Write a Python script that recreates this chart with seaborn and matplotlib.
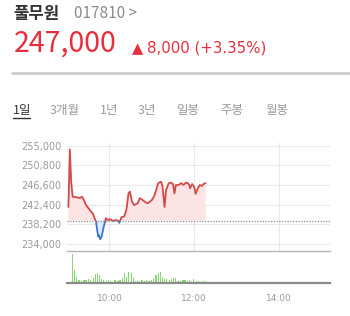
import numpy as np
import pandas as pd
import matplotlib
matplotlib.use("Agg")
import matplotlib.pyplot as plt
from matplotlib.patches import Rectangle
import seaborn as sns

# ---------------- data ----------------
name = "풀무원"
code = "017810 >"
last_price = "247,000"
change_arrow = "▲"
change_text = "8,000 (+3.35%)"
tabs = ["1일", "3개월", "1년", "3년", "일봉", "주봉", "월봉"]

prev_close = 239000
y_ticks = [234000, 238200, 242400, 246600, 250800, 255000]
x_ticks = [60, 180, 300]          # minutes after 09:00
x_tick_labels = ["10:00", "12:00", "14:00"]

# price line: minutes after 09:00, price
price_min = [2, 4, 6, 8, 13, 18, 21, 24, 27, 32, 37, 39, 41, 44, 45, 47, 49, 52,
             55, 58, 61, 65, 68, 72, 74, 77, 81, 84, 87, 89, 92, 95, 100, 103,
             107, 110, 114, 117, 120, 123, 126, 129, 133, 135, 138, 140, 144,
             147, 150, 152, 154, 158, 161, 165, 168, 171, 173, 174, 177, 180,
             182, 185, 188, 191, 193, 196]
price_val = [241900, 254200, 247100, 244100, 244000, 243800, 244100, 243400,
             242300, 241300, 240400, 239500, 238800, 235600, 235900, 235000,
             235600, 237700, 239500, 239100, 239300, 238900, 239100, 239000,
             238500, 239700, 239900, 241300, 244800, 245200, 243000, 242300,
             242700, 243800, 243400, 243000, 242700, 243000, 243400, 244100,
             245500, 247000, 247300, 246400, 241900, 245500, 247000, 247100,
             246800, 244800, 246600, 246600, 247000, 246600, 247100, 247000,
             246600, 245900, 246800, 246200, 244700, 245900, 246600, 246400,
             246800, 247000]

# volume bars (hundreds of shares): minutes after 09:00
vol_min = [8, 11, 14, 17, 21, 24, 27, 30, 33, 37, 40, 43, 46, 49, 52, 56, 59,
           62, 65, 68, 72, 75, 78, 81, 84, 87, 91, 94, 97, 100, 103, 106, 110,
           113, 116, 119, 122, 126, 129, 132, 135, 138, 141, 145, 148, 151,
           154, 157, 160, 164, 167, 170, 173, 176, 179, 183, 186, 189, 192, 195]
vol_val = [28.3, 12.7, 6, 2.7, 1.7, 2.7, 2.7, 3.3, 2.7, 4.3, 8.3, 9.3, 7.7,
           3.7, 2.7, 1.7, 2.7, 1.7, 1, 2.7, 2, 2.7, 5, 9.3, 6, 10.3, 9.3, 4.3,
           1.7, 2, 2, 2.3, 1.7, 2.7, 1.7, 2.7, 4.3, 7.7, 10, 10.3, 6, 3.3, 3.7,
           2.7, 3.3, 4.3, 5, 1.7, 1.7, 2.3, 2.7, 2, 2.7, 1.7, 3.3, 2, 1.7, 1,
           2, 1.3]

price_df = pd.DataFrame({"minute": price_min, "price": price_val})
vol_df = pd.DataFrame({"minute": vol_min, "volume": vol_val})

# ---------------- style ----------------
sns.set_style("white")
plt.rcParams["font.family"] = ["Noto Sans CJK KR", "DejaVu Sans"]

W, H = 350, 316
fig = plt.figure(figsize=(W / 100, H / 100), dpi=100)
fig.patch.set_facecolor("white")

def fx(x):
    return x / W

def fy(y):
    return 1 - y / H

RED = "#e62e3d"
LINE_RED = "#d24a4a"
LINE_BLUE = "#3f74dc"
FILL_RED = "#fde4e4"
FILL_BLUE = "#e3ebfa"
GRID = "#e9e9e9"
LABEL = "#9a9a9a"

# ---------------- header texts ----------------
fig.text(fx(13), fy(14), name, fontsize=12, fontweight="bold", color="#333333",
         va="center", ha="left")
fig.text(fx(74), fy(14), code, fontsize=11, color="#8a8a8a", va="center", ha="left")
fig.text(fx(14), fy(44), last_price, fontsize=20.5, color=RED, va="center", ha="left")
fig.text(fx(132), fy(48.5), change_arrow, fontsize=10.5, color=RED, va="center", ha="left",
         family=["DejaVu Sans"])
fig.text(fx(147), fy(48), change_text, fontsize=10.8, color=RED, va="center", ha="left",
         family=["DejaVu Sans"])
fig.add_artist(plt.Line2D([fx(12), fx(350)], [fy(73), fy(73)], color="#cccccc", lw=2))

tab_x = [13, 50, 100, 138, 176, 220, 265]
for i, (t, xx) in enumerate(zip(tabs, tab_x)):
    fig.text(fx(xx), fy(110), t, fontsize=9, color="#333333" if i == 0 else LABEL,
             va="center", ha="left")
fig.add_artist(plt.Line2D([fx(13), fx(30)], [fy(118), fy(118)], color="#333333", lw=1))

# ---------------- price axes ----------------
ax = fig.add_axes([fx(67), fy(251), fx(330) - fx(67), (251 - 143) / H])
vax = fig.add_axes([fx(67), fy(282.5), fx(330) - fx(67), (282.5 - 251) / H])

xmin, xmax = 0, 372
ylo, yhi = 232490, 255580

x = np.array(price_min, dtype=float)
y = np.array(price_val, dtype=float)
ax.fill_between(x, y, prev_close, where=y >= prev_close, interpolate=True,
                color=FILL_RED, lw=0, zorder=1)
ax.fill_between(x, y, prev_close, where=y <= prev_close, interpolate=True,
                color=FILL_BLUE, lw=0, zorder=1)

sns.lineplot(data=price_df, x="minute", y="price", ax=ax, color=LINE_RED, lw=1.3, zorder=3)
sns.lineplot(data=price_df, x="minute", y="price", ax=ax, color=LINE_BLUE, lw=1.3, zorder=3)
lines = ax.get_lines()
lines[0].set_clip_path(Rectangle((xmin, prev_close), xmax - xmin, yhi - prev_close,
                                 transform=ax.transData))
lines[1].set_clip_path(Rectangle((xmin, ylo), xmax - xmin, prev_close - ylo,
                                 transform=ax.transData))

ax.axhline(prev_close, color="#8c8c8c", lw=0.9, ls=(0, (1, 1.2)), zorder=4)

ax.set_xlim(xmin, xmax)
ax.set_ylim(ylo, yhi)
ax.set_yticks(y_ticks)
ax.set_yticklabels([f"{v:,}" for v in y_ticks])
ax.set_xticks(x_ticks)
ax.set_xticklabels([])
ax.tick_params(axis="both", length=0)
ax.tick_params(axis="y", labelsize=7, labelcolor=LABEL, pad=4)
for lab in ax.get_yticklabels():
    lab.set_family("DejaVu Sans")
ax.grid(True, color=GRID, lw=0.8)
ax.set_axisbelow(True)
ax.set_xlabel("")
ax.set_ylabel("")
for s in ["top", "left", "right"]:
    ax.spines[s].set_visible(False)
ax.spines["bottom"].set_color("#b5b5b5")
ax.spines["bottom"].set_linewidth(1)

# ---------------- volume axes ----------------
vax.bar(vol_df["minute"], vol_df["volume"], width=1.7, color="#86d86e", lw=0)
vax.set_xlim(xmin, xmax)
vax.set_ylim(0, 31.5)
vax.set_yticks([])
vax.set_xticks(x_ticks)
vax.set_xticklabels(x_tick_labels)
vax.tick_params(axis="x", direction="in", length=2, width=1, color="#888888",
                labelsize=6.5, labelcolor=LABEL, pad=8)
for lab in vax.get_xticklabels():
    lab.set_family("DejaVu Sans")
for s in ["top", "left", "right"]:
    vax.spines[s].set_visible(False)
vax.spines["bottom"].set_color("#8a8a8a")
vax.spines["bottom"].set_linewidth(1.6)
vax.set_facecolor("none")

fig.savefig("out.png", dpi=100)
